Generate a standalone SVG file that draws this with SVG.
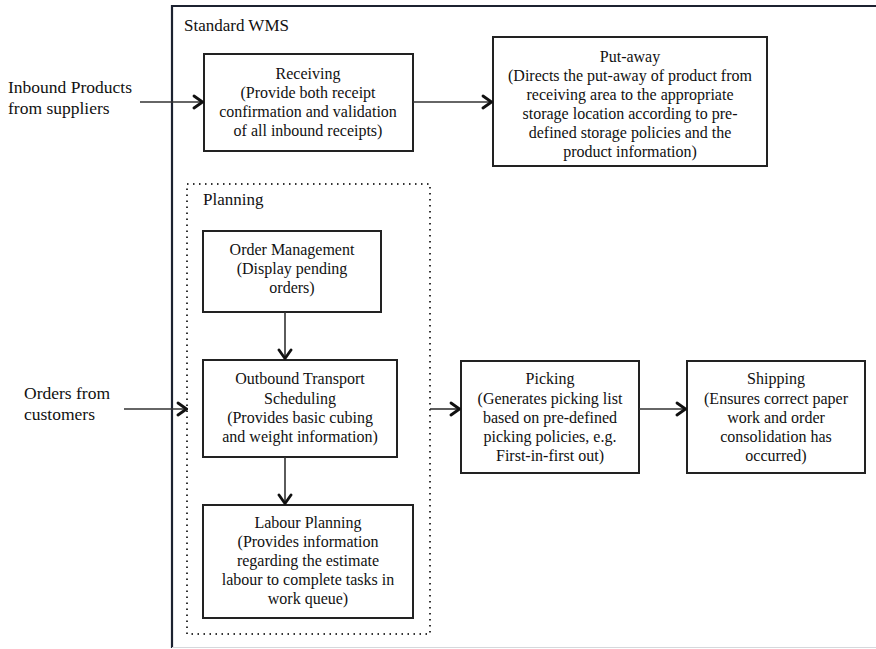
<svg xmlns="http://www.w3.org/2000/svg" width="876" height="649" viewBox="0 0 876 649">
  <defs>
    <marker id="chev" viewBox="0 0 12 16" refX="11" refY="8" markerWidth="12" markerHeight="16" markerUnits="userSpaceOnUse" orient="auto">
      <path d="M2,2 L10.5,8 L2,14" fill="none" stroke="#111" stroke-width="2.8" stroke-linecap="round" stroke-linejoin="miter"/>
    </marker>
  </defs>
  <style>
    text { font-family: "Liberation Serif", "DejaVu Serif", serif; fill: #111; font-size: 16px; }
    .c { text-anchor: middle; }
    .lbl { font-size: 17.5px; }
    .box { fill: #fff; stroke: #222; stroke-width: 2; }
    .edge { fill: none; stroke: #333; stroke-width: 1.6; marker-end: url(#chev); }
  </style>
  <rect width="876" height="649" fill="#fff"/>

  <!-- outer system frame -->
  <g id="frame">
    <path d="M172,648 V6 H876" fill="none" stroke="#1c2230" stroke-width="2.2"/>
    <line x1="172" y1="647.5" x2="876" y2="647.5" stroke="#d6d8dc" stroke-width="1"/>
    <text x="184" y="31" style="font-size:17px">Standard WMS</text>
  </g>

  <!-- planning group -->
  <g id="planning">
    <rect x="187" y="184" width="243" height="450" fill="none" stroke="#333" stroke-width="2" stroke-dasharray="1.5 4.5"/>
    <text x="203" y="205" style="font-size:17px">Planning</text>
  </g>

  <g id="inbound">
    <text class="lbl" x="8" y="93">Inbound Products</text>
    <text class="lbl" x="8" y="114">from suppliers</text>
  </g>

  <g id="orders">
    <text class="lbl" x="24" y="399">Orders from</text>
    <text class="lbl" x="24" y="420">customers</text>
  </g>

  <g id="receiving">
    <rect class="box" x="204" y="54" width="209" height="97"/>
    <text class="c" x="308" y="79">Receiving</text>
    <text class="c" x="308" y="98">(Provide both receipt</text>
    <text class="c" x="308" y="117">confirmation and validation</text>
    <text class="c" x="308" y="136">of all inbound receipts)</text>
  </g>

  <g id="putaway">
    <rect class="box" x="493" y="37" width="274" height="129"/>
    <text class="c" x="630" y="62">Put-away</text>
    <text class="c" x="630" y="81">(Directs the put-away of product from</text>
    <text class="c" x="630" y="100">receiving area to the appropriate</text>
    <text class="c" x="630" y="119">storage location according to pre-</text>
    <text class="c" x="630" y="138">defined storage policies and the</text>
    <text class="c" x="630" y="157">product information)</text>
  </g>

  <g id="order-management">
    <rect class="box" x="203" y="231" width="178" height="81"/>
    <text class="c" x="292" y="255">Order Management</text>
    <text class="c" x="292" y="274">(Display pending</text>
    <text class="c" x="292" y="293">orders)</text>
  </g>

  <g id="outbound-transport">
    <rect class="box" x="203" y="360" width="194" height="97"/>
    <text class="c" x="300" y="384">Outbound Transport</text>
    <text class="c" x="300" y="404">Scheduling</text>
    <text class="c" x="300" y="423">(Provides basic cubing</text>
    <text class="c" x="300" y="442">and weight information)</text>
  </g>

  <g id="labour-planning">
    <rect class="box" x="203" y="505" width="210" height="113"/>
    <text class="c" x="308" y="528">Labour Planning</text>
    <text class="c" x="308" y="547">(Provides information</text>
    <text class="c" x="308" y="566">regarding the estimate</text>
    <text class="c" x="308" y="585">labour to complete tasks in</text>
    <text class="c" x="308" y="604">work queue)</text>
  </g>

  <g id="picking">
    <rect class="box" x="461" y="361" width="178" height="112"/>
    <text class="c" x="550" y="384">Picking</text>
    <text class="c" x="550" y="404">(Generates picking list</text>
    <text class="c" x="550" y="423">based on pre-defined</text>
    <text class="c" x="550" y="442">picking policies, e.g.</text>
    <text class="c" x="550" y="461">First-in-first out)</text>
  </g>

  <g id="shipping">
    <rect class="box" x="687" y="361" width="178" height="112"/>
    <text class="c" x="776" y="384">Shipping</text>
    <text class="c" x="776" y="404">(Ensures correct paper</text>
    <text class="c" x="776" y="423">work and order</text>
    <text class="c" x="776" y="442">consolidation has</text>
    <text class="c" x="776" y="461">occurred)</text>
  </g>

  <g id="connectors">
    <line class="edge" x1="140" y1="102" x2="203" y2="102"/>
    <line class="edge" x1="413" y1="102" x2="492" y2="102"/>
    <line class="edge" x1="124" y1="409" x2="187" y2="409"/>
    <line class="edge" x1="285" y1="312" x2="285" y2="359"/>
    <line class="edge" x1="285" y1="457" x2="285" y2="504"/>
    <line class="edge" x1="430" y1="409" x2="460" y2="409"/>
    <line class="edge" x1="639" y1="409" x2="686" y2="409"/>
  </g>
</svg>
